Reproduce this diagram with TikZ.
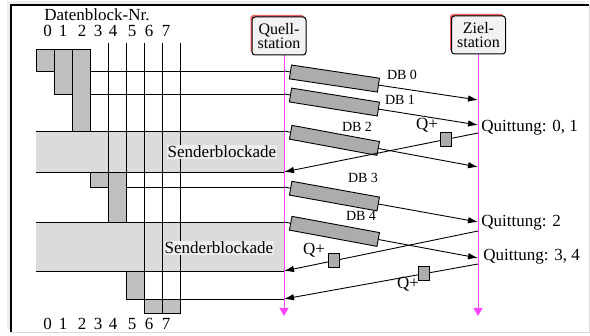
\documentclass[tikz,border=0pt]{standalone}
\usepackage{fontspec}
\setmainfont{Liberation Serif}
\usetikzlibrary{arrows.meta,positioning,shadows}
\definecolor{lanepink}{RGB}{255,70,255}
\definecolor{shadowred}{RGB}{240,95,95}

\begin{document}
\begin{tikzpicture}[x=1pt,y=-1pt,line width=0.9pt,
  font=\fontsize{17}{19}\selectfont,
  lane/.style={draw=lanepink,line width=1pt,-{Triangle[length=8pt,width=9pt]}},
  station/.style={draw,rounded corners=3pt,fill=gray!10,line width=1pt,align=center,
    inner sep=1pt,minimum width=54pt,minimum height=38pt,font=\fontsize{16}{14.5}\selectfont,
    drop shadow={shadow xshift=-1.5pt,shadow yshift=2pt,fill=shadowred,opacity=1}},
  msg/.style={-{Latex[length=10pt,width=6.5pt]}},
  dbbox/.style={draw,fill=gray!65,sloped,minimum width=89pt,minimum height=14pt,inner sep=0pt},
  qbox/.style={draw,fill=gray!65,minimum width=11pt,minimum height=14pt,inner sep=0pt},
  blk/.style={draw,fill=gray!50},
  band/.style={fill=gray!28},
  blocktext/.style={fill=gray!14,inner sep=1pt},
  digit/.style={inner sep=0pt},
  dblabel/.style={font=\fontsize{14}{16}\selectfont}]
  \useasboundingbox (0,0) rectangle (590,336);

  % frame
  \fill[gray!14] (7,1) rectangle (585,329);
  \fill[white] (11,5) rectangle (589,332);
  \draw[line width=1.3pt] (11,332) -- (11,5) -- (589,5);
  \draw[gray!30] (589,5) -- (589,332) -- (11,332);

  % sender side: buffer of data blocks
  \fill[band] (36,131) rectangle (284,172);
  \fill[band] (36,222) rectangle (284,271);
  \foreach \x/\y in {108/172,126/172,144/271,162/299,180/299}
    \draw (\x,43) -- (\x,\y);
  \foreach \x/\y in {36/71,54/94,36/131,36/172,90/187,36/222,36/271,126/299}
    \draw (\x,\y) -- (284,\y);
  \foreach \a/\b/\c/\d in {36/49/54/71,54/49/72/94,72/49/90/131,90/172/108/187,
      108/172/126/222,126/271/144/299,144/299/162/313,162/299/180/313}
    \draw[blk] (\a,\b) rectangle (\c,\d);
  \node[blocktext] (sb1) at (222,152) {Senderblockade};
  \node[blocktext] (sb2) at (219,248) {Senderblockade};

  \node[inner sep=0pt] (nrtitle) at (97,15) {Datenblock-Nr.};
  \foreach \n/\x in {0/47.5,1/63,2/82,3/98,4/113,5/132,6/149,7/166} {
    \node[digit] (top\n) at (\x,31) {\n};
    \node[digit] (bot\n) at (\x,324) {\n};
  }

  % stations
  \coordinate (qtop) at (284,55);
  \coordinate (qbot) at (284,316);
  \coordinate (ztop) at (478,54);
  \coordinate (zbot) at (478,316);
  \draw[lane] (qtop) -- (qbot);
  \draw[lane] (ztop) -- (zbot);
  \node[station] (quell) at (279,36) {Quell-\\station};
  \node[station] (ziel) at (478.5,35) {Ziel-\\station};

  % data blocks
  \foreach \n/\ys/\ye/\lx/\ly in {0/71/100/402/75,1/94/125/400/100,2/131/167/357/127,
      3/187/222/363/178,4/222/258/361/216} {
    \coordinate (db\n-s) at (284,\ys);
    \coordinate (db\n-e) at (478,\ye);
    \draw[msg] (db\n-s) -- node[dbbox,pos=0.26] (db\n) {} (db\n-e);
    \node[dblabel] (db\n-lbl) at (\lx,\ly) {DB \n};
  }

  % acknowledgements
  \foreach \n/\ys/\ye/\qp/\qx/\qy/\txt/\tx/\ty in {1/133/172/0.165/427/125/{Quittung: 0, 1}/480/128,
      2/231/271/0.742/314/250/{Quittung: 2}/480/223,
      3/264/299/0.278/408/284/{Quittung: 3, 4}/482/257} {
    \coordinate (ack\n-s) at (478,\ys);
    \coordinate (ack\n-e) at (284,\ye);
    \draw[msg] (ack\n-s) -- node[qbox,pos=\qp] (q\n) {} (ack\n-e);
    \node (q\n-lbl) at (\qx,\qy) {Q+};
    \node[anchor=west,inner sep=1pt] (quit\n) at (\tx,\ty) {\txt};
  }
\end{tikzpicture}
\end{document}
